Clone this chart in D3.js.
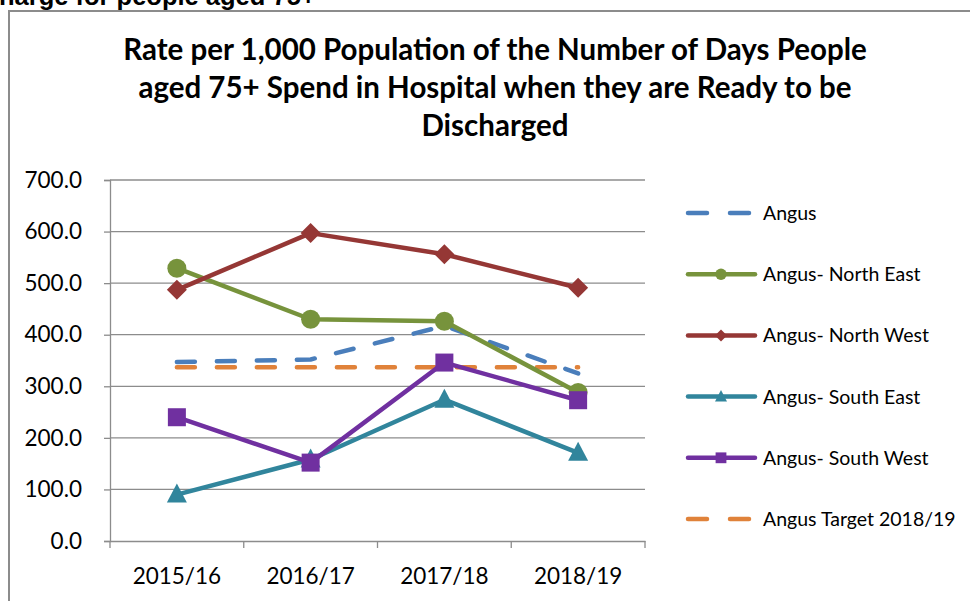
<!DOCTYPE html>
<html>
<head>
<meta charset="utf-8">
<script src="https://cdn.jsdelivr.net/npm/d3@7"></script>
<style>
  body { margin: 0; background: #fff; }
  svg { display: block; font-family: Lato, "Open Sans", sans-serif; }
</style>
</head>
<body>
<div id="chart"></div>
<script>
// data
var years = ["2015/16", "2016/17", "2017/18", "2018/19"];
var angus = [347, 352, 417, 325];
var northEast = [529, 430, 426, 288];
var northWest = [487, 597, 556, 491];
var southEast = [90, 158, 274, 171];
var southWest = [240, 152, 346, 273];
var target = [337, 337, 337, 337];
var yTicks = [0, 100, 200, 300, 400, 500, 600, 700];
var seriesNames = ["Angus", "Angus- North East", "Angus- North West",
    "Angus- South East", "Angus- South West", "Angus Target 2018/19"];

function plot() {
    var series = [
        {name: seriesNames[0], values: angus, color: "#4A7EBB", dash: true, marker: null},
        {name: seriesNames[1], values: northEast, color: "#77933C", dash: false, marker: "circle"},
        {name: seriesNames[2], values: northWest, color: "#953735", dash: false, marker: "diamond"},
        {name: seriesNames[3], values: southEast, color: "#31859C", dash: false, marker: "triangle"},
        {name: seriesNames[4], values: southWest, color: "#7030A0", dash: false, marker: "square"},
        {name: seriesNames[5], values: target, color: "#E0823A", dash: true, marker: null}
    ];
    // target goes underneath the rest
    var drawOrder = [5, 0, 1, 2, 3, 4];

    var width = 970, height = 601;
    var mLeft = 110, mRight = 645, mTop = 180, mBottom = 541;

    var svg = d3.select("#chart").append("svg")
        .attr("width", width)
        .attr("height", height);

    // clipped heading from the page above the chart
    svg.append("text")
        .attr("x", -1)
        .attr("y", 5)
        .attr("font-family", "Liberation Sans, Arial, sans-serif")
        .attr("font-weight", "bold")
        .attr("font-size", 25.5)
        .attr("fill", "#000")
        .text("harge for people aged 75+");

    // chart frame
    svg.append("rect")
        .attr("x", 9)
        .attr("y", 11)
        .attr("width", 980)
        .attr("height", 620)
        .attr("fill", "none")
        .attr("stroke", "#8c8c8c")
        .attr("stroke-width", 2);

    var titleLines = ["Rate per 1,000 Population of the Number of Days People",
        "aged 75+ Spend in Hospital when they are Ready to be",
        "Discharged"];
    svg.append("g").selectAll("text")
        .data(titleLines)
        .enter()
        .append("text")
        .attr("x", 495)
        .attr("y", function (d, i) { return 60 + i * 38; })
        .attr("text-anchor", "middle")
        .attr("font-weight", "bold")
        .attr("font-size", 29.5)
        .attr("fill", "#000")
        .text(function (d) { return d; });

    var x = d3.scaleBand().domain(years).range([mLeft, mRight]);
    var y = d3.scaleLinear().domain([0, 700]).range([mBottom, mTop]);

    // gridlines
    svg.append("g").selectAll("line")
        .data(yTicks.slice(1))
        .enter()
        .append("line")
        .attr("x1", mLeft)
        .attr("x2", mRight)
        .attr("y1", function (d) { return y(d); })
        .attr("y2", function (d) { return y(d); })
        .attr("stroke", "#8c8c8c")
        .attr("stroke-width", 1.3);

    var yAxis = svg.append("g")
        .attr("transform", "translate(" + mLeft + ",0)")
        .call(d3.axisLeft(y).tickValues(yTicks).tickSize(6).tickPadding(22)
            .tickFormat(function (d) { return d.toFixed(1); }));
    yAxis.select(".domain").attr("stroke", "#8c8c8c").attr("stroke-width", 1.3);
    yAxis.selectAll(".tick line").attr("stroke", "#8c8c8c").attr("stroke-width", 1.3);
    yAxis.selectAll(".tick text").attr("font-size", 22.5).attr("fill", "#000")
        .attr("font-family", "Lato, sans-serif");

    var xAxis = svg.append("g")
        .attr("transform", "translate(0," + mBottom + ")")
        .call(d3.axisBottom(x).tickSize(0).tickPadding(27));
    xAxis.select(".domain").attr("stroke", "#8c8c8c").attr("stroke-width", 1.3);
    xAxis.selectAll(".tick text").attr("font-size", 22.5).attr("fill", "#000")
        .attr("font-family", "Lato, sans-serif");
    var xEdges = years.map(function (d) { return x(d); }).concat([mRight]);
    xAxis.selectAll(".edge")
        .data(xEdges)
        .enter()
        .append("line")
        .attr("class", "edge")
        .attr("x1", function (d) { return d; })
        .attr("x2", function (d) { return d; })
        .attr("y1", 0)
        .attr("y2", 7)
        .attr("stroke", "#8c8c8c")
        .attr("stroke-width", 1.3);

    var cx = function (i) { return x(years[i]) + x.bandwidth() / 2; };

    var line = d3.line()
        .x(function (d, i) { return cx(i); })
        .y(function (d) { return y(d); });

    function drawMarker(g, type, px, py, color, s) {
        if (type === "circle") {
            g.append("circle").attr("cx", px).attr("cy", py).attr("r", 9.5 * s).attr("fill", color);
        } else if (type === "diamond") {
            var r = 10 * s;
            g.append("path")
                .attr("d", "M" + px + "," + (py - r) + "L" + (px + r) + "," + py + "L" + px + "," + (py + r) + "L" + (px - r) + "," + py + "Z")
                .attr("fill", color);
        } else if (type === "triangle") {
            var t = 10 * s;
            g.append("path")
                .attr("d", "M" + px + "," + (py - t * 1.1) + "L" + (px + t) + "," + (py + t * 0.8) + "L" + (px - t) + "," + (py + t * 0.8) + "Z")
                .attr("fill", color);
        } else if (type === "square") {
            var h = 9 * s;
            g.append("rect").attr("x", px - h).attr("y", py - h).attr("width", 2 * h).attr("height", 2 * h).attr("fill", color);
        }
    }

    var lines = svg.append("g");
    drawOrder.forEach(function (k) {
        var s = series[k];
        lines.append("path")
            .datum(s.values)
            .attr("d", line)
            .attr("fill", "none")
            .attr("stroke", s.color)
            .attr("stroke-width", 4.5)
            .attr("stroke-linecap", s.dash ? "round" : "butt")
            .attr("stroke-linejoin", "round")
            .attr("stroke-dasharray", s.dash ? "18,22" : null);
        if (s.marker) {
            s.values.forEach(function (v, i) {
                drawMarker(lines, s.marker, cx(i), y(v), s.color, 1);
            });
        }
    });

    // legend
    var legend = svg.append("g");
    series.forEach(function (s, i) {
        var ly = 213 + i * 61.2;
        var row = legend.append("g");
        if (s.dash) {
            row.append("line").attr("x1", 688).attr("x2", 707).attr("y1", ly).attr("y2", ly)
                .attr("stroke", s.color).attr("stroke-width", 4.5).attr("stroke-linecap", "round");
            row.append("line").attr("x1", 730).attr("x2", 749).attr("y1", ly).attr("y2", ly)
                .attr("stroke", s.color).attr("stroke-width", 4.5).attr("stroke-linecap", "round");
        } else {
            row.append("line").attr("x1", 688).attr("x2", 755).attr("y1", ly).attr("y2", ly)
                .attr("stroke", s.color).attr("stroke-width", 4.5).attr("stroke-linecap", "round");
            drawMarker(row, s.marker, 721, ly, s.color, 0.6);
        }
        row.append("text")
            .attr("x", 763)
            .attr("y", ly + 7)
            .attr("font-size", 19.5)
            .attr("fill", "#000")
            .text(s.name);
    });
}

plot();
</script>
</body>
</html>
